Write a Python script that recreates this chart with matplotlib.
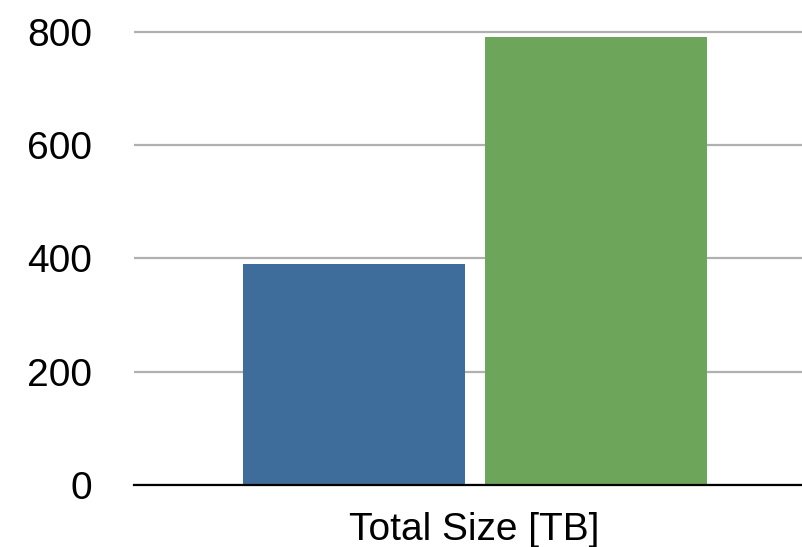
import matplotlib
matplotlib.use("Agg")
import matplotlib.pyplot as plt

# Data
series_names = ["Dataset A", "Dataset B"]
total_size_tb = [390, 791]
bar_colors = ["#3E6C9B", "#6DA55B"]
y_ticks = [0, 200, 400, 600, 800]
x_label = "Total Size [TB]"

plt.rcParams["font.family"] = ["Liberation Sans", "DejaVu Sans"]

W, H = 803, 547
fig = plt.figure(figsize=(W / 100, H / 100), dpi=100)
left, right = 134 / W, 1.0
bottom = 1 - 485 / H
top = 1 - 26.3 / H
ax = fig.add_axes([left, bottom, right - left, top - bottom])

positions = list(range(len(total_size_tb)))
ax.bar(positions, total_size_tb, width=0.917, color=bar_colors, zorder=3)

ax.set_xlim(-0.909, 1.855)
ax.set_ylim(0, 810)
ax.set_yticks(y_ticks)
ax.set_yticklabels([str(t) for t in y_ticks], fontsize=28)
ax.set_xticks([])
ax.tick_params(axis="y", length=0, pad=30)

ax.grid(axis="y", color="#b0b0b0", linewidth=1.6, zorder=0)
for side in ["left", "right", "top"]:
    ax.spines[side].set_visible(False)
ax.spines["bottom"].set_color("black")
ax.spines["bottom"].set_linewidth(1.6)
ax.spines["bottom"].set_zorder(4)

ax.set_xlabel(x_label, fontsize=28)
ax.xaxis.set_label_coords(0.508, -0.058, transform=ax.transAxes)
ax.xaxis.label.set_va("top")

fig.savefig("out.png", dpi=100)
